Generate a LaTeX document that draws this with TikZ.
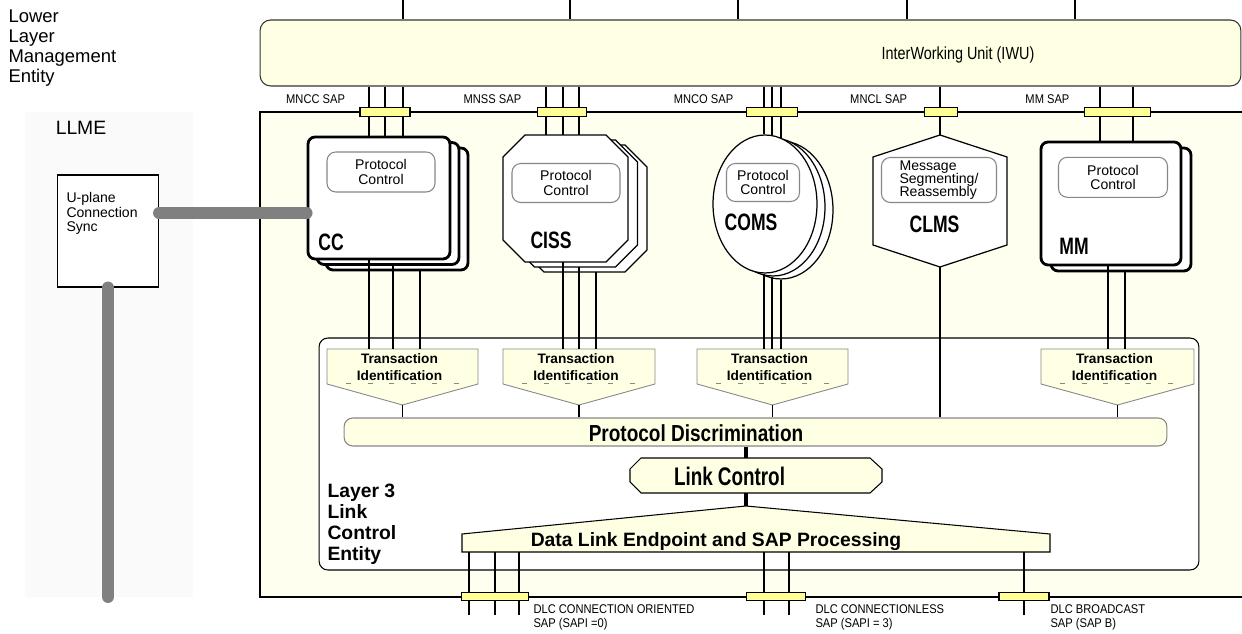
\documentclass[tikz,border=0pt]{standalone}
\usepackage{fontspec}
\setmainfont{Liberation Sans}
\newfontfamily\narrowfont[FakeStretch=0.82]{Liberation Sans}
\newfontfamily\tightfont[FakeStretch=0.74]{Liberation Sans}
\newfontfamily\sapfont[FakeStretch=0.88]{Liberation Sans}
\usetikzlibrary{shapes.geometric, positioning}

\definecolor{paleyel}{RGB}{255,255,228}
\definecolor{sapyel}{RGB}{255,255,150}
\definecolor{areayel}{RGB}{255,255,240}
\definecolor{areagray}{RGB}{250,250,250}
\definecolor{pipegray}{RGB}{128,128,128}
\definecolor{edgegray}{RGB}{135,135,135}

\begin{document}
\begin{tikzpicture}[x=0.02cm, y=-0.02cm, line width=0.6pt,
    sap/.style={rectangle, draw, fill=sapyel, minimum height=0.18cm, inner sep=0pt},
    saplabel/.style={font=\sapfont\fontsize{7.2}{8.2}\selectfont, inner sep=0pt, align=left},
    entity/.style={rectangle, draw, fill=white, line width=1.6pt, rounded corners=4pt, inner sep=0pt},
    ccbox/.style={entity, minimum width=2.84cm, minimum height=2.44cm},
    mmbox/.style={entity, minimum width=2.8cm, minimum height=2.46cm},
    comsbox/.style={ellipse, draw, fill=white, line width=0.7pt, minimum width=2.08cm, minimum height=2.76cm, inner sep=0pt},
    shellpath/.style={draw, fill=white, line width=0.7pt},
    pcbox/.style={rectangle, draw=edgegray, fill=white, rounded corners=5pt, inner sep=0pt, align=center, font=\fontsize{8}{8.2}\selectfont},
    entitytag/.style={inner sep=0pt, font=\tightfont\bfseries\fontsize{13.5}{14}\selectfont},
    transbox/.style={draw=edgegray, fill=paleyel, line width=0.5pt},
    tidash/.style={draw=edgegray, line width=0.5pt, dash pattern=on 2.8pt off 9.5pt},
    translabel/.style={inner sep=0pt, align=center, font=\bfseries\fontsize{7.8}{9.6}\selectfont},
    blockpath/.style={draw, fill=paleyel, line width=0.6pt},
    datalink/.style={line width=2.3pt},
    uplane/.style={draw=pipegray, line width=6.8pt, line cap=round}
]
\useasboundingbox (0,0) rectangle (1242,634);

% Areas
\fill[areagray] (25,112) rectangle (193,597);
\fill[areayel] (260,112) rectangle (1242,597);
\draw (1242,112) -- (260,112) -- (260,597) -- (1242,597);

\node[anchor=west, align=left, inner sep=0pt, font=\fontsize{10.5}{11.3}\selectfont] (lowerle) at (8,48) {Lower\\Layer\\Management\\Entity};
\node[inner sep=0pt, font=\fontsize{11}{12}\selectfont] (llme) at (81,128) {LLME};

% InterWorking Unit
\node[rectangle, draw=black!80, fill=paleyel, rounded corners=6pt, minimum width=19.62cm, minimum height=1.32cm] (iwu) at (750.5,53) {};
\node[inner sep=0pt, font=\narrowfont\fontsize{10}{12}\selectfont] (iwutext) at (958,55) {InterWorking Unit (IWU)};
\coordinate (topedge) at (0,0);
\foreach \x in {403,570,738,907,1075}
  \draw (\x,0 |- topedge) -- (\x,0 |- iwu.north);

% Layer 3 link control entity
\node[rectangle, draw, fill=white, rounded corners=5pt, minimum width=17.6cm, minimum height=4.64cm] (l3) at (759,454) {};
\node[rectangle, draw=edgegray, fill=paleyel, rounded corners=5pt, minimum width=16.46cm, minimum height=0.56cm] (pd) at (755.5,432) {};
\node[inner sep=0pt, font=\narrowfont\bfseries\fontsize{13.2}{15}\selectfont] (pdtext) at (696,433) {Protocol Discrimination};
\node[anchor=west, align=left, inner sep=0pt, font=\bfseries\fontsize{11}{11.9}\selectfont] (l3text) at (327,524) {Layer 3\\Link\\Control\\Entity};

% Transaction identification
\foreach \n/\xl/\xr in {1/327/478, 2/503/655, 3/697/848, 4/1041/1194} {
  \draw[transbox] (\xl,349) coordinate (tr\n-n) -- (\xr,349) -- (\xr,384) -- ({(\xl+\xr)/2},405) coordinate (tr\n-s) -- (\xl,384) -- cycle;
  \draw[tidash] (\xl+19,383.5) -- (\xr-19,383.5);
  \node[translabel] (tr\n) at ({(\xl+\xr)/2-3},367.5) {Transaction\\Identification};
}

% CC
\node[ccbox] (cc3) at (397,209) {};
\node[ccbox] (cc2) at (388,203.5) {};
\node[ccbox] (cc) at (379,198) {};
\node[pcbox, minimum width=2.16cm, minimum height=0.8cm] (ccpc) at (381,172) {Protocol\\Control};
\node[entitytag] (cclabel) at (331,242) {CC};

% CISS
\foreach \d in {2,1,0}
  \draw[shellpath, shift={(9.5*\d,5*\d)}] (525,135) coordinate (ciss\d-n) -- (606,135) -- (628,157) -- (628,240) -- (606,262) -- (525,262) coordinate (ciss\d-s) -- (503,240) -- (503,157) -- cycle;
\node[pcbox, minimum width=2.16cm, minimum height=0.78cm] (cisspc) at (566,183) {Protocol\\Control};
\node[entitytag] (cisslabel) at (551,240) {CISS};

% COMS
\node[comsbox] (coms3) at (781,210) {};
\node[comsbox] (coms2) at (773,207) {};
\node[comsbox] (coms) at (765,204) {};
\node[pcbox, minimum width=1.46cm, minimum height=0.76cm] (comspc) at (763,182.5) {Protocol\\Control};
\node[entitytag] (comslabel) at (751,222) {COMS};

% CLMS
\draw[shellpath] (940,135) coordinate (clms-n) -- (1007,157) -- (1007,245) -- (940,267) coordinate (clms-s) -- (873,245) -- (873,157) -- cycle;
\node[pcbox, align=left, font=\fontsize{8}{7.6}\selectfont, minimum width=2.3cm, minimum height=0.9cm] (clmspc) at (939,180) {Message\\Segmenting/\\Reassembly};
\node[entitytag] (clmslabel) at (934.5,224.5) {CLMS};

% MM
\node[mmbox] (mm2) at (1121,209.5) {};
\node[mmbox] (mm) at (1111,203.5) {};
\node[pcbox, minimum width=2.18cm, minimum height=0.8cm] (mmpc) at (1113,177.3) {Protocol\\Control};
\node[entitytag] (mmlabel) at (1074,246) {MM};

% SAP connections
\foreach \x in {369,385,403} \draw (\x,0 |- iwu.south) -- (\x,0 |- cc.north);
\foreach \x in {546,563,579} \draw (\x,0 |- iwu.south) -- (\x,0 |- ciss0-n);
\draw (764,0 |- iwu.south) -- (764,0 |- coms.north);
\draw (772,0 |- iwu.south) -- (772,0 |- coms.84);
\draw (781,0 |- iwu.south) -- (781,0 |- coms.76);
\draw (clms-n |- iwu.south) -- (clms-n);
\foreach \x in {1100,1133} \draw (\x,0 |- iwu.south) -- (\x,0 |- mm.north);

\draw (369,0 |- cc.south) -- (369,0 |- tr1-n);
\draw (393,0 |- cc2.south) -- (393,0 |- tr1-n);
\draw (420,0 |- cc3.south) -- (420,0 |- tr1-n);
\draw (563,0 |- ciss0-s) -- (563,0 |- tr2-n);
\draw (579,0 |- ciss1-s) -- (579,0 |- tr2-n);
\draw (596,0 |- ciss2-s) -- (596,0 |- tr2-n);
\draw (764,0 |- coms.south) -- (764,0 |- tr3-n);
\draw (772,0 |- coms2.south) -- (772,0 |- tr3-n);
\draw (781,0 |- coms3.south) -- (781,0 |- tr3-n);
\draw (1108,0 |- mm.south) -- (1108,0 |- tr4-n);
\draw (1125,0 |- mm2.south) -- (1125,0 |- tr4-n);
\draw (clms-s) -- (clms-s |- pd.north);
\foreach \n in {1,...,4} \draw (tr\n-s) -- (tr\n-s |- pd.north);

% Upper SAPs
\node[sap, minimum width=1.0cm] (sapcc) at (385,112) {};
\node[sap, minimum width=0.99cm] (sapss) at (562,112) {};
\node[sap, minimum width=1.01cm] (sapco) at (772,112) {};
\node[sap, minimum width=0.66cm] (sapcl) at (940.7,112) {};
\node[sap, minimum width=1.33cm] (sapmm) at (1117.7,112) {};
\node[saplabel, above left=0.05cm and 0.28cm of sapcc] (mncc) {MNCC SAP};
\node[saplabel, above left=0.05cm and 0.3cm of sapss] (mnss) {MNSS SAP};
\node[saplabel, above left=0.05cm and 0.25cm of sapco] (mnco) {MNCO SAP};
\node[saplabel, above left=0.05cm and 0.32cm of sapcl] (mncl) {MNCL SAP};
\node[saplabel, above left=0.05cm and 0.28cm of sapmm] (mmsap) {MM SAP};

% Link control and data link
\draw[blockpath] (641,458) coordinate (lc-nw) -- (870,458) -- (882,469) -- (882,482) -- (870,493) -- (641,493) coordinate (lc-sw) -- (630,482) -- (630,469) -- cycle;
\node[inner sep=0pt, font=\tightfont\bfseries\fontsize{14.5}{16}\selectfont] (lc) at (729.5,476.5) {Link Control};
\draw[blockpath] (462,552) coordinate (dle-sw) -- (462,534) -- (746,506) coordinate (dle-n) -- (1050,534) -- (1050,552) -- cycle;
\node[inner sep=0pt, font=\bfseries\fontsize{11}{13}\selectfont] (dle) at (716,541.5) {Data Link Endpoint and SAP Processing};
\draw[datalink] (dle-n |- pd.south) -- (dle-n |- lc-nw);
\draw[datalink] (dle-n |- lc-sw) -- (dle-n);

% Lower SAPs
\coordinate (lowedge) at (0,615);
\foreach \x in {469,495,519,764,789,1024} \draw (\x,0 |- dle-sw) -- (\x,0 |- lowedge);
\node[sap, minimum width=1.33cm, minimum height=0.17cm] (dlco) at (495,596.5) {};
\node[sap, minimum width=1.17cm, minimum height=0.17cm] (dlcl) at (776,596.5) {};
\node[sap, minimum width=1.0cm, minimum height=0.17cm] (dlcb) at (1024,596.5) {};
\node[saplabel, anchor=north west] (dlcotext) at (533,604) {DLC CONNECTION ORIENTED\\SAP (SAPI =0)};
\node[saplabel, anchor=north west] (dlcltext) at (815,604) {DLC CONNECTIONLESS\\SAP (SAPI = 3)};
\node[saplabel, anchor=north west] (dlcbtext) at (1050,604) {DLC BROADCAST\\SAP (SAP B)};

% U-plane connection sync
\node[rectangle, draw, fill=white, minimum width=2.02cm, minimum height=2.24cm] (ups) at (108,231) {};
\node[anchor=west, align=left, inner sep=0pt, font=\fontsize{8}{8.3}\selectfont] (upstext) at (66,213.5) {U-plane\\Connection\\Sync};
\coordinate (syncpt) at ([yshift=10.2pt]ups.east);
\coordinate (lowend) at (108,597);
\draw[uplane] (syncpt) -- (syncpt -| cc.west);
\draw[uplane] (ups.south) -- (lowend);
\end{tikzpicture}
\end{document}
